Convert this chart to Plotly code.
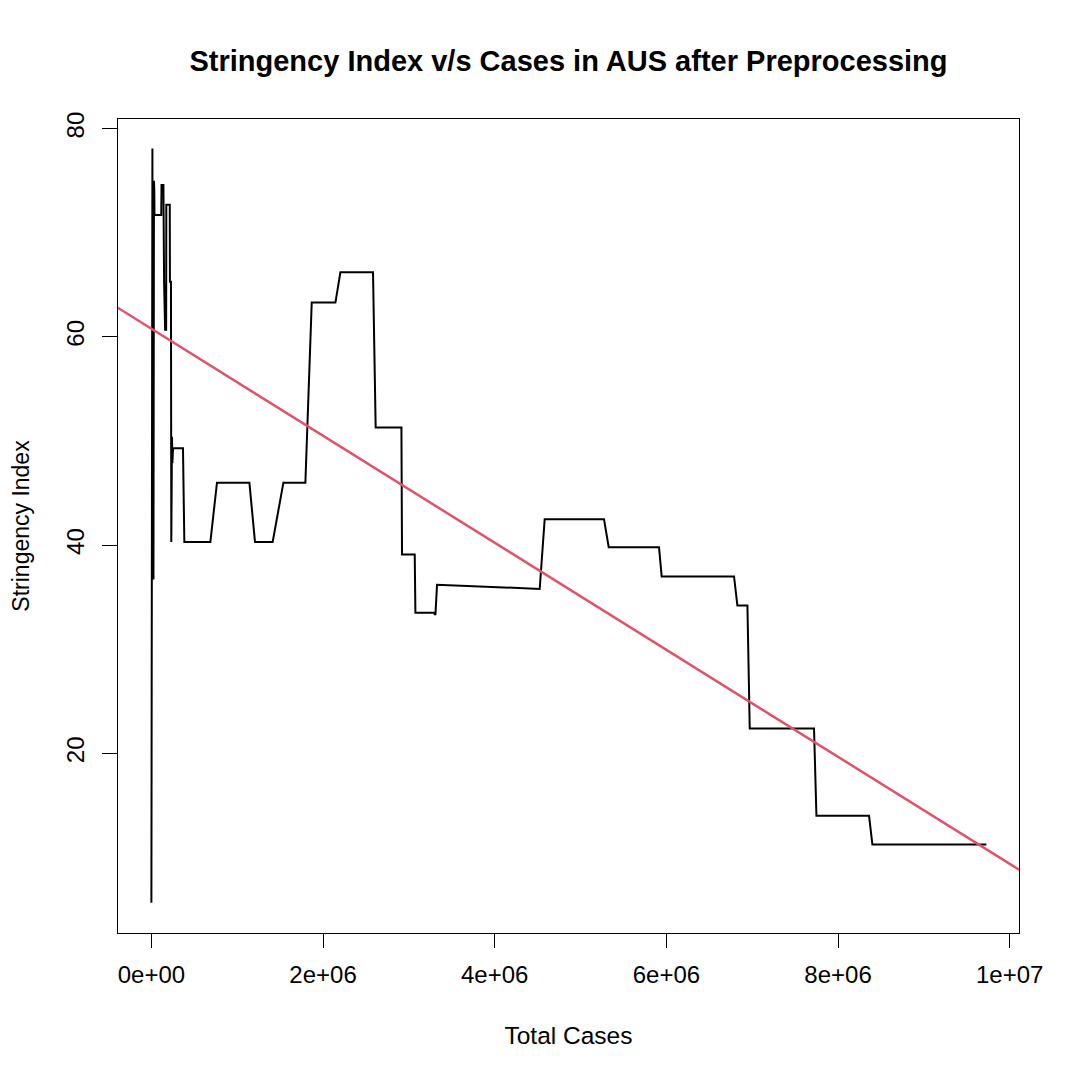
import plotly.graph_objects as go

# total cases vs stringency index
total_cases = [
    0, 2000, 4000, 6000, 8000, 10000, 12000, 14000, 16000, 18000, 20000,
    22000, 24000, 26000, 28000, 30000, 32000, 34000, 36000,
    115000, 118000, 140000, 148000, 160000, 172000, 174000, 214000, 216000,
    228000, 232000, 240000, 245000, 252000, 368000, 384000, 687000, 764000,
    1142000, 1207000, 1413000, 1538000, 1794000, 1868000, 2144000, 2202000,
    2582000, 2613000, 2913000, 2920000, 3068000, 3076000, 3290000, 3309000,
    3328000, 4524000, 4582000, 5273000, 5328000, 5914000, 5945000, 6788000,
    6827000, 6944000, 6971000, 7720000, 7748000, 8361000, 8400000, 9728000,
]
stringency = [
    5.65, 45.0, 75.4, 48.0, 73.0, 45.0, 78.1, 46.0, 75.0, 45.0, 72.5,
    50.0, 36.7, 62.0, 45.0, 75.0, 48.0, 74.0, 71.7,
    71.7, 74.6, 74.6, 65.2, 60.7, 60.7, 72.7, 72.7, 65.3,
    65.3, 40.3, 50.4, 47.9, 49.3, 49.3, 40.3, 40.3, 46.0,
    46.0, 40.3, 40.3, 46.0, 46.0, 63.3, 63.3, 66.2,
    66.2, 51.3, 51.3, 39.1, 39.1, 33.5, 33.5, 33.3,
    36.2, 35.8, 42.5, 42.5, 39.8, 39.8, 37.0, 37.0,
    34.2, 34.2, 22.4, 22.4, 14.0, 14.0, 11.25, 11.25,
]

# lm(stringency ~ total_cases) as drawn by abline
fit_intercept = 60.79
fit_slope = -5.14e-6

x_ticks = [0, 2e6, 4e6, 6e6, 8e6, 1e7]
x_tick_text = ["0e+00", "2e+06", "4e+06", "6e+06", "8e+06", "1e+07"]
y_ticks = [20, 40, 60, 80]

x_range = [-389000, 10108000]
y_range = [2.75, 80.93]

fig = go.Figure()
fig.add_trace(go.Scatter(x=total_cases, y=stringency, mode="lines",
                         line=dict(color="black", width=2), showlegend=False))

# regression line across the whole plot region (clipped like abline)
fit_x = [x_range[0] - 1e6, x_range[1] + 1e6]
fit_y = [fit_intercept + fit_slope * v for v in fit_x]
fig.add_trace(go.Scatter(x=fit_x, y=fit_y, mode="lines",
                         line=dict(color="#DF536B", width=2.5), showlegend=False))

# the page body adds 8px on the left/top, so margins are shifted by that
fig.update_layout(
    width=1080, height=1080,
    margin=dict(l=110, r=69, t=111, b=155),
    paper_bgcolor="white", plot_bgcolor="white",
    font=dict(family="Liberation Sans, Arial", size=24, color="black"),
    title=dict(text="<b>Stringency Index v/s Cases in AUS after Preprocessing</b>",
               font=dict(size=29, color="black"),
               x=0.5, xref="paper", xanchor="center",
               y=1 - 53 / 1080, yref="container", yanchor="middle"),
)
fig.update_xaxes(
    range=x_range, tickvals=x_ticks, ticktext=x_tick_text,
    showgrid=False, zeroline=False, automargin=False,
    showline=True, mirror=True, linecolor="black", linewidth=1,
    ticks="outside", ticklen=14, tickwidth=1, tickcolor="black",
    ticklabelstandoff=6,
    title=dict(text="Total Cases", font=dict(size=24.5), standoff=40),
)
fig.update_yaxes(
    range=y_range, tickvals=y_ticks, tickangle=-90,
    showgrid=False, zeroline=False, automargin=False,
    showline=True, mirror=True, linecolor="black", linewidth=1,
    ticks="outside", ticklen=15, tickwidth=1, tickcolor="black",
    ticklabelstandoff=8,
    title=dict(text="Stringency Index", font=dict(size=23), standoff=35),
)

fig.write_html("out.html")
